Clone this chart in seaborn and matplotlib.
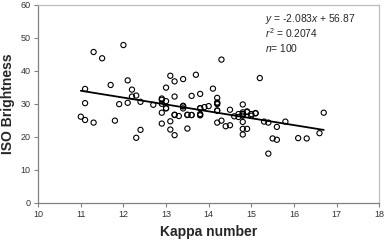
import matplotlib
matplotlib.use('Agg')
import matplotlib.pyplot as plt
import seaborn as sns
import numpy as np
import pandas as pd

##################################################################################
# data
##################################################################################
kappa = [11.0, 11.1, 11.1, 11.1, 11.3, 11.3, 11.5, 11.7, 11.8, 11.9,
         12.0, 12.1, 12.1, 12.2, 12.2, 12.3, 12.3, 12.4, 12.4, 12.7,
         12.9, 12.9, 12.9, 12.9, 13.0, 13.0, 13.0, 13.1, 13.1, 13.1,
         13.2, 13.2, 13.2, 13.2, 13.3, 13.4, 13.4, 13.4, 13.5, 13.5,
         13.6, 13.6, 13.7, 13.8, 13.8, 13.8, 13.8, 13.9, 14.0, 14.1,
         14.2, 14.2, 14.2, 14.2, 14.2, 14.3, 14.3, 14.4, 14.5, 14.5,
         14.7, 14.8, 14.8, 14.8, 14.8, 14.8, 14.8, 14.9, 14.9, 15.0,
         15.1, 15.2, 15.3, 15.4, 15.4, 15.5, 15.6, 15.6, 15.8, 16.1,
         16.3, 16.6, 16.7, 12.9, 14.6, 14.7, 13.4, 13.2, 14.8, 15.0,
         13.8, 14.9, 14.2, 13.6, 13.5, 14.2, 13.0, 14.8, 15.1, 13.8]
brightness = [26.1, 34.5, 30.2, 25.1, 45.7, 24.3, 43.8, 35.7, 24.9, 29.9,
              47.8, 37.1, 30.3, 34.3, 32.2, 32.5, 19.7, 30.6, 22.1, 29.7,
              31.6, 30.0, 27.3, 24.0, 34.9, 30.8, 28.6, 38.5, 24.7, 22.2,
              36.8, 32.2, 26.6, 20.5, 26.3, 37.5, 29.4, 28.6, 26.6, 22.5,
              26.6, 32.4, 38.8, 33.0, 28.6, 26.9, 26.5, 29.0, 29.3, 34.6,
              31.8, 30.4, 29.9, 27.9, 24.3, 43.4, 24.9, 23.2, 28.2, 23.5,
              26.0, 29.8, 27.4, 26.9, 24.5, 22.4, 20.7, 27.7, 22.4, 26.9,
              27.2, 37.8, 24.6, 24.3, 14.9, 19.5, 23.0, 19.1, 24.6, 19.6,
              19.5, 21.1, 27.3, 31.2, 26.2, 26.9, 29.2, 26.7, 26.4, 26.4,
              26.7, 27.5, 30.2, 26.6, 26.7, 28.0, 28.7, 26.9, 27.1, 28.7]

# stated fit
slope = -2.083
intercept = 56.87
r2 = 0.2074

df = pd.DataFrame({'Kappa number': kappa, 'ISO Brightness': brightness})
x_fit = [min(kappa), max(kappa)]
fit = pd.DataFrame({'x': x_fit, 'y': [slope * v + intercept for v in x_fit]})

##################################################################################
# plotting
##################################################################################
sns.set_style('white')
plt.rcParams['font.family'] = ['Liberation Sans', 'DejaVu Sans']
plt.rcParams['mathtext.fontset'] = 'custom'
plt.rcParams['mathtext.rm'] = 'Liberation Sans'
plt.rcParams['mathtext.it'] = 'Liberation Sans:italic'

fig = plt.figure(figsize=(3.87, 2.40), dpi=100)
ax = fig.add_axes([0.0987, 0.155, 0.881, 0.825])

sns.scatterplot(data=df, x='Kappa number', y='ISO Brightness', ax=ax,
                marker='o', s=14, facecolor='none', edgecolor='black',
                linewidth=0.8, zorder=3)
sns.lineplot(data=fit, x='x', y='y', ax=ax, color='black', linewidth=1.3,
             zorder=4)

ax.set_xlim(10, 18)
ax.set_ylim(0, 60)
ax.set_xticks(range(10, 19))
ax.set_yticks(range(0, 61, 10))

ax.set_xlabel('Kappa number', fontsize=10, fontweight='bold', labelpad=4)
ax.set_ylabel('ISO Brightness', fontsize=10, fontweight='bold', labelpad=4)

ax.tick_params(axis='both', direction='out', length=3, width=0.8,
               color='#808080', labelsize=6.5, labelcolor='#333333', pad=2.5)
ax.tick_params(bottom=True, left=True)

for side in ['left', 'bottom']:
    ax.spines[side].set_color('#808080')
    ax.spines[side].set_linewidth(0.9)
for side in ['top', 'right']:
    ax.spines[side].set_color('#bdbdbd')
    ax.spines[side].set_linewidth(0.9)

ax.text(0.665, 0.926, r'$y$ = %.3f$x$ + %.2f' % (slope, intercept),
        transform=ax.transAxes, fontsize=7.4, va='center', ha='left')
ax.text(0.665, 0.856, r'$r^2$ = %.4f' % r2,
        transform=ax.transAxes, fontsize=7.4, va='center', ha='left')
ax.text(0.665, 0.780, r'$n$= %d' % len(kappa),
        transform=ax.transAxes, fontsize=7.4, va='center', ha='left')

plt.savefig('out.png', dpi=100)
